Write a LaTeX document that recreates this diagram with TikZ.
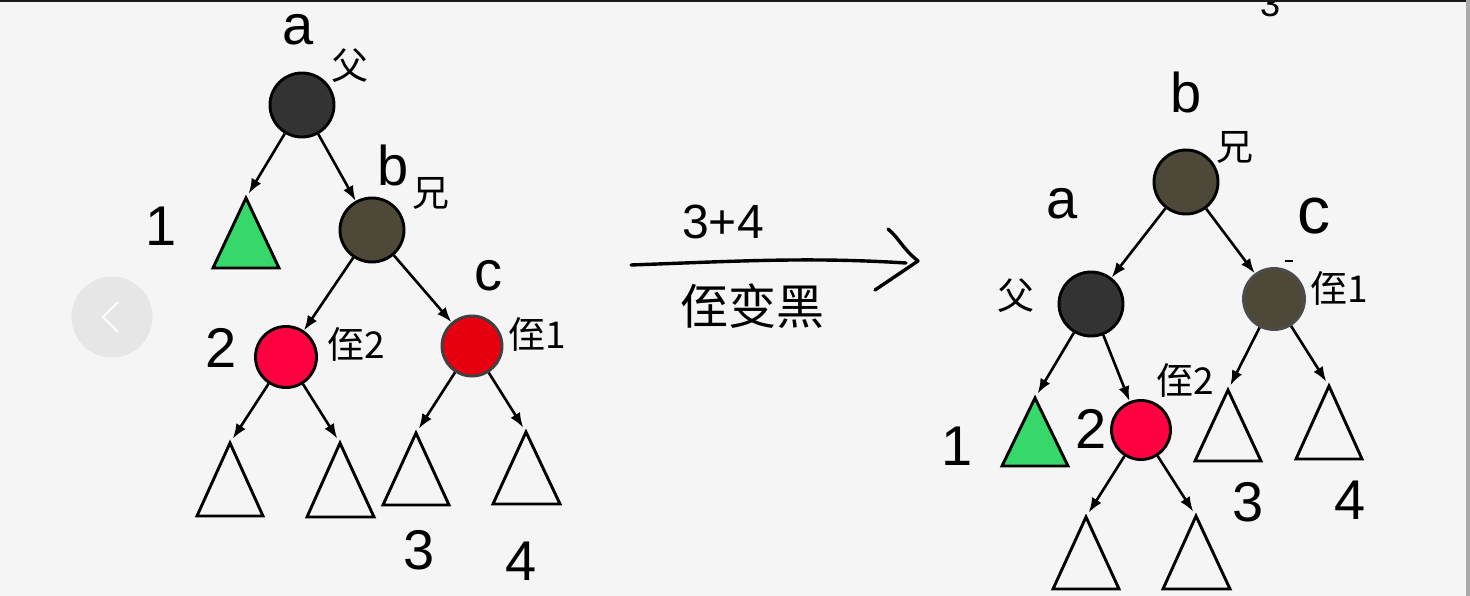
\documentclass[tikz,border=0pt]{standalone}
\usepackage{fontspec}
\setmainfont{Liberation Sans}
\newfontfamily\cjk{Noto Sans CJK SC}
\usetikzlibrary{arrows.meta}

\definecolor{paper}{HTML}{F5F5F5}
\definecolor{nodeblack}{HTML}{333333}
\definecolor{nodeolive}{HTML}{4D4838}
\definecolor{nodered}{HTML}{FF0040}
\definecolor{nodecred}{HTML}{E6000F}
\definecolor{leafgreen}{HTML}{36D86A}
\definecolor{navgray}{HTML}{E6E6E6}
\definecolor{bargray}{HTML}{AAAAAA}

\begin{document}
\begin{tikzpicture}[x=1pt,y=-1pt,
  bnode/.style={circle, draw=black, line width=2.9pt, minimum size=64pt, inner sep=0pt},
  edge/.style={line width=2.6pt, -{Latex[length=15pt,width=11pt]}},
  tri/.style={line width=2.9pt, line join=miter},
  hand/.style={font=\fontsize{56}{56}\selectfont},
  note/.style={font=\cjk\fontsize{37}{37}\selectfont},
  pen/.style={line width=3.4pt, line cap=round, line join=round}]

\useasboundingbox (0,0) rectangle (1470,596);
\fill[paper] (0,0) rectangle (1470,596);

%the back button
\node[circle, fill=navgray, minimum size=81pt, inner sep=0pt] (nav) at (112,317) {};
\draw[white, line width=2pt] (118,302) -- (103,317) -- (118,332);

%draw the left tree
\node[bnode, fill=nodeblack] (la) at (302,105) {};
\node[bnode, fill=nodeolive] (lb) at (372,230) {};
\node[bnode, fill=nodered, minimum size=61pt] (l2) at (286,357) {};
\node[bnode, fill=nodecred, draw=black!75, minimum size=60pt] (lc) at (472,346) {};

\coordinate (lt1) at (246,198);
\coordinate (lt2) at (230,443);
\coordinate (lt3) at (340,443);
\coordinate (lt4) at (416,433);
\coordinate (lt5) at (526,432);

\filldraw[tri, fill=leafgreen] (lt1) -- ++(-33,70) -- ++(66,0) -- cycle;
\draw[tri] (lt2) -- ++(-33,73) -- ++(66,0) -- cycle;
\draw[tri] (lt3) -- ++(-33,74) -- ++(67,0) -- cycle;
\draw[tri] (lt4) -- ++(-33,72) -- ++(66,0) -- cycle;
\draw[tri] (lt5) -- ++(-33,72) -- ++(67,0) -- cycle;

\draw[edge, shorten >=5pt] (la) -- (lt1);
\draw[edge] (la) -- (lb);
\draw[edge] (lb) -- (l2);
\draw[edge] (lb) -- (lc);
\draw[edge, shorten >=5pt] (l2) -- (lt2);
\draw[edge, shorten >=5pt] (l2) -- (lt3);
\draw[edge, shorten >=5pt] (lc) -- (lt4);
\draw[edge, shorten >=5pt] (lc) -- (lt5);

\node[hand] (lna) at (298,30) {a};
\node[note] (lfa) at (350,66) {父};
\node[hand] (lnb) at (393,165) {b};
\node[note] (lxi) at (431,193) {兄};
\node[hand] (lnc) at (488,276) {c};
\node[note] (lz1) at (537,334) {侄1};
\node[hand] (ln1) at (161,226) {1};
\node[hand] (ln2) at (221,348) {2};
\node[note] (lz2) at (356,344) {侄2};
\node[hand] (ln3) at (419,550) {3};
\node[hand] (ln4) at (521,561) {4};

%the step in the middle
\coordinate (m0) at (631,265);
\coordinate (m1) at (906,263);
\draw[pen] (m0) .. controls (740,261) and (810,257) .. (m1);
\draw[pen] (888,229) .. controls (899,238) and (902,248) .. (918,261) -- (875,290);
\node[hand, font=\fontsize{48}{48}\selectfont] (rule) at (723,222) {3+4};
\node[note, font=\cjk\fontsize{48}{48}\selectfont] (recolor) at (752,306) {侄变黑};

%draw the right tree
\node[bnode, fill=nodeolive] (rb) at (1186,182) {};
\node[bnode, fill=nodeblack] (ra) at (1091,304) {};
\node[bnode, fill=nodeolive, draw=black!70, minimum size=61pt] (rc) at (1274,299) {};
\node[bnode, fill=nodered, minimum size=59pt] (r2) at (1141,430) {};

\coordinate (rt1) at (1035,398);
\coordinate (rt3) at (1228,390);
\coordinate (rt4) at (1329,386);
\coordinate (rt5) at (1086,517);
\coordinate (rt6) at (1196,516);

\filldraw[tri, fill=leafgreen] (rt1) -- ++(-33,68) -- ++(66,0) -- cycle;
\draw[tri] (rt3) -- ++(-33,71) -- ++(66,0) -- cycle;
\draw[tri] (rt4) -- ++(-33,73) -- ++(66,0) -- cycle;
\draw[tri] (rt5) -- ++(-33,72) -- ++(66,0) -- cycle;
\draw[tri] (rt6) -- ++(-33,73) -- ++(67,0) -- cycle;

\draw[edge] (rb) -- (ra);
\draw[edge] (rb) -- (rc);
\draw[edge, shorten >=5pt] (ra) -- (rt1);
\draw[edge] (ra) -- (r2);
\draw[edge, shorten >=5pt] (rc) -- (rt3);
\draw[edge, shorten >=5pt] (rc) -- (rt4);
\draw[edge, shorten >=5pt] (r2) -- (rt5);
\draw[edge, shorten >=5pt] (r2) -- (rt6);

\node[hand] (rnb) at (1186,92) {b};
\node[note] (rxi) at (1235,147) {兄};
\node[hand] (rna) at (1062,204) {a};
\node[note] (rfa) at (1016,296) {父};
\node[hand, font=\fontsize{66}{66}\selectfont] (rnc) at (1314,216) {c};
\draw[line width=1.5pt] (1285,261) -- (1293,261);
\node[note] (rz1) at (1339,288) {侄1};
\node[hand] (rn1) at (957,446) {1};
\node[hand] (rn2) at (1091,429) {2};
\node[note] (rz2) at (1185,380) {侄2};
\node[hand] (rn3) at (1248,502) {3};
\node[hand] (rn4) at (1350,500) {4};
\node[hand, font=\fontsize{36}{36}\selectfont] (top3) at (1270,4) {3};

%frame
\fill[black!90] (0,0) rectangle (1466,2);
\fill[bargray] (1466,0) rectangle (1470,596);

\end{tikzpicture}
\end{document}
